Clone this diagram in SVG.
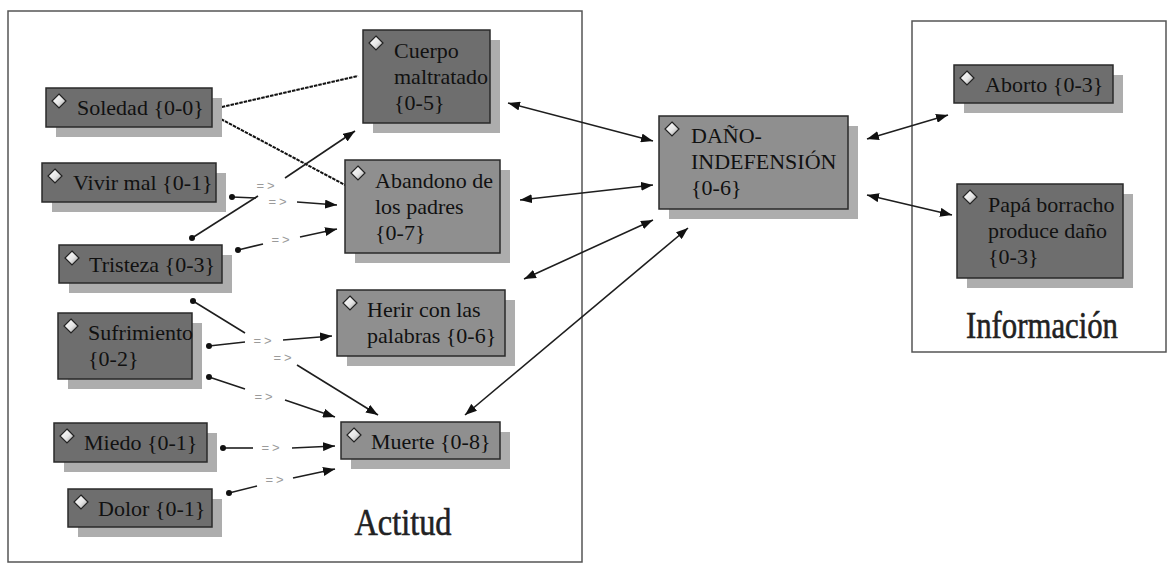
<svg xmlns="http://www.w3.org/2000/svg" xmlns:xlink="http://www.w3.org/1999/xlink" width="1168" height="563" viewBox="0 0 1168 563">
  <style>
    .frame { fill: #ffffff; stroke: #555555; stroke-width: 1.5; }
    .shadow { fill: #adadad; }
    .dark { fill: #6e6e6e; stroke: #2a2a2a; stroke-width: 1.5; }
    .light { fill: #8f8f8f; stroke: #2a2a2a; stroke-width: 1.5; }
    .label { font-size: 22px; fill: #111111; }
    .title { font-size: 38px; fill: #222222; stroke: #222222; stroke-width: 0.6; }
    .rel { font-size: 13px; fill: #9a9a9a; letter-spacing: 3px; text-anchor: middle; }
    .link { fill: none; stroke: #1e1e1e; stroke-width: 1.6; }
    .dash { fill: none; stroke: #111111; stroke-width: 2; stroke-dasharray: 3.5 1; }
    .dot { fill: #111111; }
  </style>
  <defs>
    <linearGradient id="gemFill" x1="0" y1="0" x2="1" y2="1">
      <stop offset="0" stop-color="#ffffff"/>
      <stop offset="0.55" stop-color="#e6e6e6"/>
      <stop offset="1" stop-color="#8a8a8a"/>
    </linearGradient>
    <g id="gem">
      <polygon points="0,-7 7,0 0,7 -7,0" fill="url(#gemFill)" stroke="#222222" stroke-width="1.2"/>
    </g>
    <marker id="arrow" markerUnits="userSpaceOnUse" markerWidth="13" markerHeight="9" refX="12" refY="4.5" orient="auto-start-reverse">
      <path d="M0,0 L12,4.5 L0,9 z" fill="#111111"/>
    </marker>
  </defs>

  <rect width="1168" height="563" fill="#ffffff"/>

  <!-- group frames -->
  <g id="frame-actitud">
    <rect class="frame" x="8" y="11" width="574" height="551"/>
    <text class="title" font-family="Liberation Serif, DejaVu Serif, serif" x="403" y="535" text-anchor="middle" textLength="97" lengthAdjust="spacingAndGlyphs">Actitud</text>
  </g>
  <g id="frame-informacion">
    <rect class="frame" x="912" y="21" width="254" height="331"/>
    <text class="title" font-family="Liberation Serif, DejaVu Serif, serif" x="1042" y="338" text-anchor="middle" textLength="152" lengthAdjust="spacingAndGlyphs">Información</text>
  </g>

  <!-- connectors -->
  <g id="connectors" font-family="Liberation Sans, DejaVu Sans, sans-serif">
    <!-- associations from Soledad -->
    <line class="dash" x1="213" y1="109" x2="358" y2="76"/>
    <line class="dash" x1="217" y1="117" x2="345" y2="185"/>

    <!-- causal links (=>) -->
    <line class="link" x1="192" y1="238" x2="258" y2="196"/>
    <line class="link" x1="285" y1="178" x2="355" y2="131" marker-end="url(#arrow)"/>
    <circle class="dot" cx="192" cy="238" r="3"/>
    <text class="rel" x="267" y="190">=&gt;</text>

    <line class="link" x1="232" y1="197" x2="256" y2="198"/>
    <line class="link" x1="297" y1="202" x2="337" y2="205" marker-end="url(#arrow)"/>
    <circle class="dot" cx="232" cy="197" r="3"/>
    <text class="rel" x="279" y="206">=&gt;</text>

    <line class="link" x1="238" y1="250" x2="263" y2="244"/>
    <line class="link" x1="300" y1="237" x2="337" y2="229" marker-end="url(#arrow)"/>
    <circle class="dot" cx="238" cy="250" r="3"/>
    <text class="rel" x="282" y="244">=&gt;</text>

    <line class="link" x1="209" y1="346" x2="245" y2="342"/>
    <line class="link" x1="283" y1="340" x2="332" y2="336" marker-end="url(#arrow)"/>
    <circle class="dot" cx="209" cy="346" r="3"/>
    <text class="rel" x="264" y="345">=&gt;</text>

    <line class="link" x1="193" y1="301" x2="245" y2="333"/>
    <line class="link" x1="297" y1="365" x2="378" y2="415" marker-end="url(#arrow)"/>
    <circle class="dot" cx="193" cy="301" r="3"/>
    <text class="rel" x="284" y="362">=&gt;</text>

    <line class="link" x1="209" y1="377" x2="245" y2="389"/>
    <line class="link" x1="285" y1="400" x2="335" y2="417" marker-end="url(#arrow)"/>
    <circle class="dot" cx="209" cy="377" r="3"/>
    <text class="rel" x="265" y="401">=&gt;</text>

    <line class="link" x1="223" y1="448" x2="253" y2="448"/>
    <line class="link" x1="292" y1="448" x2="335" y2="446" marker-end="url(#arrow)"/>
    <circle class="dot" cx="223" cy="448" r="3"/>
    <text class="rel" x="272" y="452">=&gt;</text>

    <line class="link" x1="229" y1="493" x2="257" y2="486"/>
    <line class="link" x1="293" y1="478" x2="335" y2="469" marker-end="url(#arrow)"/>
    <circle class="dot" cx="229" cy="493" r="3"/>
    <text class="rel" x="276" y="484">=&gt;</text>

    <!-- two-way links with DAÑO-INDEFENSIÓN -->
    <line class="link" x1="508" y1="103" x2="653" y2="141" marker-start="url(#arrow)" marker-end="url(#arrow)"/>
    <line class="link" x1="520" y1="200" x2="653" y2="185" marker-start="url(#arrow)" marker-end="url(#arrow)"/>
    <line class="link" x1="524" y1="279" x2="653" y2="220" marker-start="url(#arrow)" marker-end="url(#arrow)"/>
    <line class="link" x1="465" y1="415" x2="688" y2="228" marker-start="url(#arrow)" marker-end="url(#arrow)"/>
    <line class="link" x1="867" y1="139" x2="948" y2="115" marker-start="url(#arrow)" marker-end="url(#arrow)"/>
    <line class="link" x1="867" y1="195" x2="952" y2="215" marker-start="url(#arrow)" marker-end="url(#arrow)"/>
  </g>

  <!-- nodes -->
  <g id="nodes" font-family="Liberation Serif, DejaVu Serif, serif">
  <g id="node-soledad">
    <rect class="shadow" x="56" y="98" width="166" height="39"/>
    <rect class="dark" x="46" y="88" width="166" height="39"/>
    <use xlink:href="#gem" x="59" y="101"/>
    <text class="label" x="77" y="115">Soledad {0-0}</text>
  </g>
  <g id="node-vivir-mal">
    <rect class="shadow" x="52" y="173" width="174" height="39"/>
    <rect class="dark" x="42" y="163" width="174" height="39"/>
    <use xlink:href="#gem" x="55" y="176"/>
    <text class="label" x="73" y="190">Vivir mal {0-1}</text>
  </g>
  <g id="node-tristeza">
    <rect class="shadow" x="69" y="255" width="163" height="38"/>
    <rect class="dark" x="59" y="245" width="163" height="38"/>
    <use xlink:href="#gem" x="72" y="258"/>
    <text class="label" x="89" y="272">Tristeza {0-3}</text>
  </g>
  <g id="node-sufrimiento">
    <rect class="shadow" x="68" y="323" width="134" height="66"/>
    <rect class="dark" x="58" y="313" width="134" height="66"/>
    <use xlink:href="#gem" x="71" y="326"/>
    <text class="label" x="88" y="340">Sufrimiento</text>
    <text class="label" x="88" y="366">{0-2}</text>
  </g>
  <g id="node-miedo">
    <rect class="shadow" x="64" y="433" width="153" height="39"/>
    <rect class="dark" x="54" y="423" width="153" height="39"/>
    <use xlink:href="#gem" x="67" y="436"/>
    <text class="label" x="84" y="450">Miedo {0-1}</text>
  </g>
  <g id="node-dolor">
    <rect class="shadow" x="78" y="499" width="144" height="38"/>
    <rect class="dark" x="68" y="489" width="144" height="38"/>
    <use xlink:href="#gem" x="81" y="502"/>
    <text class="label" x="98" y="516">Dolor {0-1}</text>
  </g>
  <g id="node-cuerpo-maltratado">
    <rect class="shadow" x="373" y="40" width="127" height="93"/>
    <rect class="dark" x="363" y="30" width="127" height="93"/>
    <use xlink:href="#gem" x="376" y="43"/>
    <text class="label" x="394" y="58">Cuerpo</text>
    <text class="label" x="394" y="84">maltratado</text>
    <text class="label" x="394" y="110">{0-5}</text>
  </g>
  <g id="node-abandono">
    <rect class="shadow" x="355" y="170" width="155" height="93"/>
    <rect class="light" x="345" y="160" width="155" height="93"/>
    <use xlink:href="#gem" x="358" y="173"/>
    <text class="label" x="375" y="188">Abandono de</text>
    <text class="label" x="375" y="214">los padres</text>
    <text class="label" x="375" y="240">{0-7}</text>
  </g>
  <g id="node-herir">
    <rect class="shadow" x="347" y="300" width="168" height="66"/>
    <rect class="light" x="337" y="290" width="168" height="66"/>
    <use xlink:href="#gem" x="350" y="303"/>
    <text class="label" x="367" y="317">Herir con las</text>
    <text class="label" x="367" y="343">palabras {0-6}</text>
  </g>
  <g id="node-muerte">
    <rect class="shadow" x="351" y="432" width="159" height="37"/>
    <rect class="light" x="341" y="422" width="159" height="37"/>
    <use xlink:href="#gem" x="354" y="435"/>
    <text class="label" x="371" y="449">Muerte {0-8}</text>
  </g>
  <g id="node-dano-indefension">
    <rect class="shadow" x="669" y="126" width="189" height="93"/>
    <rect class="light" x="659" y="116" width="189" height="93"/>
    <use xlink:href="#gem" x="672" y="129"/>
    <text class="label" x="691" y="143">DAÑO-</text>
    <text class="label" x="691" y="169">INDEFENSIÓN</text>
    <text class="label" x="691" y="195">{0-6}</text>
  </g>
  <g id="node-aborto">
    <rect class="shadow" x="964" y="75" width="159" height="38"/>
    <rect class="dark" x="954" y="65" width="159" height="38"/>
    <use xlink:href="#gem" x="967" y="78"/>
    <text class="label" x="985" y="92">Aborto {0-3}</text>
  </g>
  <g id="node-papa-borracho">
    <rect class="shadow" x="967" y="194" width="166" height="94"/>
    <rect class="dark" x="957" y="184" width="166" height="94"/>
    <use xlink:href="#gem" x="970" y="197"/>
    <text class="label" x="988" y="212">Papá borracho</text>
    <text class="label" x="988" y="238">produce daño</text>
    <text class="label" x="988" y="264">{0-3}</text>
  </g>
  </g>
</svg>
